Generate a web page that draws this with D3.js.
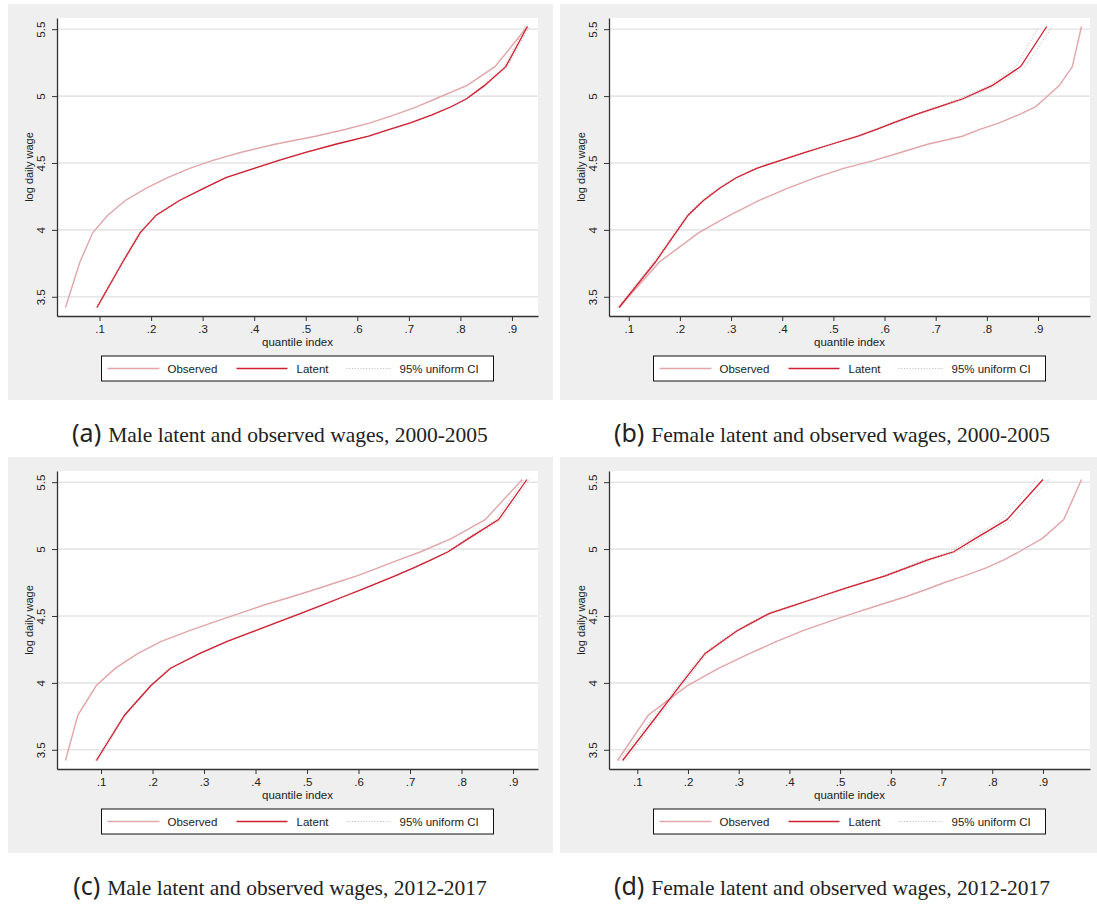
<!DOCTYPE html>
<html>
<head>
<meta charset="utf-8">
<script src="https://cdn.jsdelivr.net/npm/d3@7"></script>
<style>
  body { margin: 0; background: #fff; }
  text { font-family: "Liberation Sans", Arial, sans-serif; fill: #222; }
</style>
</head>
<body>
<div id="chart"></div>
<script>
// log daily wage levels shared by every curve (y values)
var wageGrid = [3.42, 3.76, 3.98, 4.11, 4.22, 4.31, 4.39, 4.46, 4.52, 4.58, 4.64, 4.70, 4.75, 4.80, 4.86, 4.92, 4.98, 5.08, 5.22, 5.52];

// quantile index at each wage level
// (a) male 2000-2005
var obsA = [0.034, 0.062, 0.087, 0.116, 0.150, 0.190, 0.232, 0.275, 0.320, 0.375, 0.440, 0.519, 0.576, 0.625, 0.672, 0.715, 0.752, 0.813, 0.867, 0.930];
var latA = [0.095, 0.145, 0.179, 0.210, 0.255, 0.302, 0.345, 0.400, 0.448, 0.500, 0.558, 0.622, 0.661, 0.703, 0.745, 0.782, 0.812, 0.847, 0.888, 0.930];
var loA  = [0.093, 0.143, 0.177, 0.208, 0.253, 0.300, 0.343, 0.398, 0.446, 0.498, 0.556, 0.620, 0.659, 0.701, 0.743, 0.780, 0.810, 0.844, 0.885, 0.926];
var hiA  = [0.097, 0.147, 0.181, 0.212, 0.257, 0.304, 0.347, 0.402, 0.450, 0.502, 0.560, 0.624, 0.663, 0.705, 0.747, 0.784, 0.814, 0.850, 0.891, 0.934];
// (b) female 2000-2005
var obsB = [0.081, 0.160, 0.237, 0.298, 0.355, 0.410, 0.465, 0.520, 0.580, 0.633, 0.684, 0.752, 0.785, 0.824, 0.862, 0.895, 0.913, 0.942, 0.967, 0.985];
var latB = [0.081, 0.152, 0.192, 0.216, 0.246, 0.277, 0.310, 0.350, 0.397, 0.445, 0.496, 0.548, 0.583, 0.617, 0.659, 0.706, 0.753, 0.811, 0.866, 0.917];
var loB  = [0.078, 0.149, 0.189, 0.213, 0.243, 0.274, 0.307, 0.347, 0.394, 0.442, 0.493, 0.545, 0.580, 0.613, 0.655, 0.701, 0.747, 0.804, 0.857, 0.902];
var hiB  = [0.084, 0.155, 0.195, 0.219, 0.249, 0.280, 0.313, 0.353, 0.400, 0.448, 0.499, 0.551, 0.586, 0.621, 0.663, 0.711, 0.759, 0.818, 0.875, 0.928];
// (c) male 2012-2017
var obsC = [0.031, 0.055, 0.091, 0.128, 0.172, 0.217, 0.272, 0.323, 0.369, 0.415, 0.467, 0.517, 0.557, 0.597, 0.638, 0.678, 0.721, 0.781, 0.846, 0.918];
var latC = [0.091, 0.146, 0.197, 0.235, 0.292, 0.345, 0.400, 0.447, 0.488, 0.528, 0.568, 0.608, 0.639, 0.671, 0.707, 0.741, 0.774, 0.814, 0.872, 0.927];
var loC  = [0.088, 0.144, 0.195, 0.233, 0.290, 0.343, 0.398, 0.445, 0.486, 0.526, 0.566, 0.606, 0.637, 0.669, 0.705, 0.739, 0.771, 0.810, 0.867, 0.921];
var hiC  = [0.094, 0.148, 0.199, 0.237, 0.294, 0.347, 0.402, 0.449, 0.490, 0.530, 0.570, 0.610, 0.641, 0.673, 0.709, 0.743, 0.777, 0.818, 0.877, 0.932];
// (d) female 2012-2017
var obsD = [0.061, 0.122, 0.199, 0.261, 0.322, 0.375, 0.427, 0.479, 0.526, 0.576, 0.626, 0.671, 0.706, 0.745, 0.788, 0.823, 0.853, 0.899, 0.941, 0.976];
var latD = [0.071, 0.140, 0.184, 0.211, 0.234, 0.267, 0.297, 0.331, 0.361, 0.409, 0.457, 0.505, 0.546, 0.589, 0.631, 0.673, 0.724, 0.767, 0.829, 0.900];
var loD  = [0.065, 0.135, 0.180, 0.207, 0.230, 0.263, 0.293, 0.327, 0.357, 0.405, 0.453, 0.501, 0.542, 0.584, 0.626, 0.667, 0.717, 0.759, 0.819, 0.887];
var hiD  = [0.077, 0.145, 0.188, 0.215, 0.238, 0.271, 0.301, 0.335, 0.365, 0.413, 0.461, 0.509, 0.550, 0.594, 0.636, 0.679, 0.731, 0.775, 0.839, 0.913];

var yTicks = [3.5, 4, 4.5, 5, 5.5];
var yTickLabels = ["3.5", "4", "4.5", "5", "5.5"];
var xTicks = [0.1, 0.2, 0.3, 0.4, 0.5, 0.6, 0.7, 0.8, 0.9];
var xTickLabels = [".1", ".2", ".3", ".4", ".5", ".6", ".7", ".8", ".9"];
var legendLabels = ["Observed", "Latent", "95% uniform CI"];
var captionTags = ["(a)", "(b)", "(c)", "(d)"];
var captions = [
  "Male latent and observed wages, 2000-2005",
  "Female latent and observed wages, 2000-2005",
  "Male latent and observed wages, 2012-2017",
  "Female latent and observed wages, 2012-2017"
];

var colObs = "#e0a6a9", colLat = "#cf1f31", colCI = "#bda9a9";

// panel layout
var panels = [
  { gx: 8,   gy: 4,   gw: 545, obs: obsA, lat: latA, lo: loA, hi: hiA },
  { gx: 560, gy: 4,   gw: 537, obs: obsB, lat: latB, lo: loB, hi: hiB },
  { gx: 8,   gy: 457, gw: 545, obs: obsC, lat: latC, lo: loC, hi: hiC },
  { gx: 560, gy: 457, gw: 537, obs: obsD, lat: latD, lo: loD, hi: hiD }
];
var gh = 396;
var plotLeft = 49, plotTop = 14, plotW = 481, plotH = 298, pad = 8.5;

var svg = d3.select("#chart").append("svg")
  .attr("width", 1097)
  .attr("height", 909);

panels.forEach(function(p, i) {
  var g = svg.append("g").attr("transform", `translate(${p.gx},${p.gy})`);

  g.append("rect").attr("width", p.gw).attr("height", gh).attr("fill", "#efefef");

  var plot = g.append("g").attr("transform", `translate(${plotLeft},${plotTop})`);
  plot.append("rect").attr("width", plotW).attr("height", plotH).attr("fill", "#fff");

  var allX = p.obs.concat(p.lat, p.lo, p.hi);
  var x = d3.scaleLinear().domain(d3.extent(allX)).range([pad, plotW - pad]);
  var y = d3.scaleLinear().domain(d3.extent(wageGrid)).range([plotH - pad, pad]);

  // axis scales stretched over the full plot region
  var xAxisScale = d3.scaleLinear().domain([x.invert(0), x.invert(plotW)]).range([0, plotW]);
  var yAxisScale = d3.scaleLinear().domain([y.invert(plotH), y.invert(0)]).range([plotH, 0]);

  // gridlines
  plot.selectAll(".grid")
    .data(yTicks)
    .enter().append("line")
    .attr("x1", 0).attr("x2", plotW)
    .attr("y1", d => y(d)).attr("y2", d => y(d))
    .attr("stroke", "#e6e6e6")
    .attr("stroke-width", 1.6);

  var line = d3.line()
    .x(d => x(d[0]))
    .y(d => y(d[1]));

  function pts(arr) { return arr.map((v, k) => [v, wageGrid[k]]); }

  [p.lo, p.hi].forEach(function(arr) {
    plot.append("path")
      .datum(pts(arr))
      .attr("fill", "none")
      .attr("stroke", colCI)
      .attr("stroke-width", 0.9)
      .attr("stroke-dasharray", "1,1.8")
      .attr("d", line);
  });

  plot.append("path")
    .datum(pts(p.obs))
    .attr("fill", "none")
    .attr("stroke", colObs)
    .attr("stroke-width", 1.4)
    .attr("d", line);

  plot.append("path")
    .datum(pts(p.lat))
    .attr("fill", "none")
    .attr("stroke", colLat)
    .attr("stroke-width", 1.3)
    .attr("d", line);

  // y axis
  var yAx = plot.append("g")
    .call(d3.axisLeft(yAxisScale)
      .tickValues(yTicks)
      .tickFormat((d, k) => yTickLabels[k])
      .tickSize(5)
      .tickSizeOuter(0));
  yAx.select(".domain").attr("stroke", "#333").attr("stroke-width", 1.3);
  yAx.selectAll(".tick line").attr("stroke", "#333");
  yAx.selectAll(".tick text")
    .attr("x", null).attr("dy", null)
    .attr("transform", "translate(-12,0) rotate(-90)")
    .style("text-anchor", "middle")
    .style("font-size", "11.5px")
    .style("font-family", "'Liberation Sans', Arial, sans-serif")
    .attr("fill", "#222");

  // x axis
  var xAx = plot.append("g")
    .attr("transform", `translate(0,${plotH})`)
    .call(d3.axisBottom(xAxisScale)
      .tickValues(xTicks)
      .tickFormat((d, k) => xTickLabels[k])
      .tickSize(5)
      .tickPadding(4)
      .tickSizeOuter(0));
  xAx.select(".domain").attr("stroke", "#333").attr("stroke-width", 1.3);
  xAx.selectAll(".tick line").attr("stroke", "#333");
  xAx.selectAll(".tick text")
    .style("font-size", "11.5px")
    .style("font-family", "'Liberation Sans', Arial, sans-serif")
    .attr("fill", "#222");

  // axis titles
  plot.append("text")
    .attr("transform", `translate(-24,${plotH / 2}) rotate(-90)`)
    .style("text-anchor", "middle")
    .style("font-size", "11px")
    .text("log daily wage");

  plot.append("text")
    .attr("x", plotW / 2)
    .attr("y", plotH + 30)
    .style("text-anchor", "middle")
    .style("font-size", "11.5px")
    .text("quantile index");

  // legend
  var lw = 392, lh = 25;
  var leg = plot.append("g")
    .attr("transform", `translate(${(plotW - lw) / 2},${plotH + 40})`);
  leg.append("rect")
    .attr("width", lw).attr("height", lh)
    .attr("fill", "#fff")
    .attr("stroke", "#111")
    .attr("stroke-width", 1);
  var items = [
    { x0: 6,   x1: 58,  tx: 66,  col: colObs, dash: null, w: 1.4 },
    { x0: 135, x1: 186, tx: 195, col: colLat, dash: null, w: 1.3 },
    { x0: 245, x1: 290, tx: 298, col: colCI,  dash: "1,1.8", w: 0.9 }
  ];
  items.forEach(function(it, k) {
    leg.append("line")
      .attr("x1", it.x0).attr("x2", it.x1)
      .attr("y1", lh / 2).attr("y2", lh / 2)
      .attr("stroke", it.col)
      .attr("stroke-width", it.w)
      .attr("stroke-dasharray", it.dash);
    leg.append("text")
      .attr("x", it.tx)
      .attr("y", lh / 2 + 4)
      .style("font-size", "11.5px")
      .text(legendLabels[k]);
  });

  // caption under the panel
  var cap = g.append("text")
    .attr("x", 272)
    .attr("y", gh + 42)
    .style("text-anchor", "middle");
  cap.append("tspan")
    .style("font-family", "'Noto Sans', 'Open Sans', sans-serif")
    .style("font-size", "25px")
    .text(captionTags[i]);
  cap.append("tspan")
    .attr("dx", 7)
    .style("font-family", "'Liberation Serif', 'DejaVu Serif', serif")
    .style("font-size", "21.5px")
    .text(captions[i]);
});
</script>
</body>
</html>
